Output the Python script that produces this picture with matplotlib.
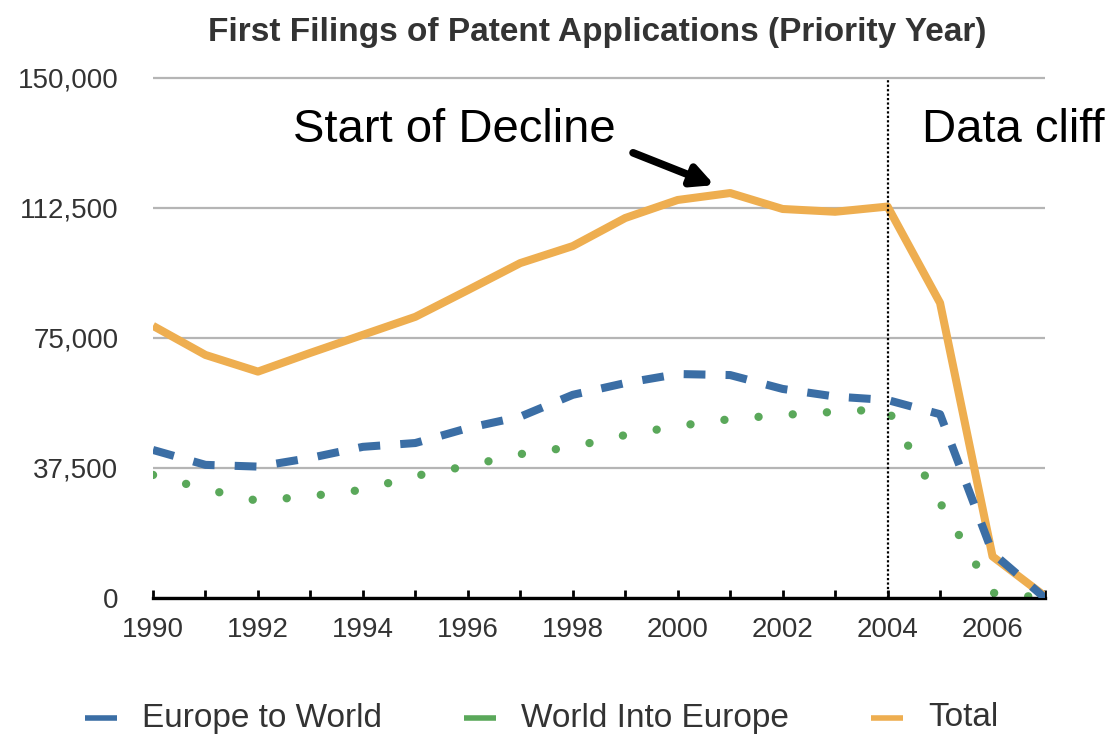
import numpy as np
import matplotlib.pyplot as plt
from matplotlib.lines import Line2D

plt.rcParams['font.family'] = ['Liberation Sans', 'DejaVu Sans']

# data
years = list(range(1990, 2008))
europe_to_world = [42700, 38400, 37900, 40400, 43600, 44700, 49000, 52300, 58600, 62000,
                   64600, 64300, 60300, 58100, 57100, 53000, 13000, 0]
world_into_europe = [35500, 31400, 28000, 29400, 31200, 35200, 38100, 41500, 43600, 47000,
                     49600, 51600, 52800, 53700, 54500, 27500, 1500, 0]
total = [78500, 70100, 65300, 70700, 75900, 81100, 88800, 96600, 101500, 109600,
         114800, 116800, 112200, 111400, 112900, 85100, 12000, 500]
ytick_vals = [0, 37500, 75000, 112500, 150000]
ytick_labels = ["0", "37,500", "75,000", "112,500", "150,000"]
series_names = ["Europe to World", "World Into Europe", "Total"]

c_blue = '#3b6ea5'
c_green = '#5aa85a'
c_orange = '#eeae50'
c_text = '#333333'

W, H = 1115, 736
fig = plt.figure(figsize=(W / 100, H / 100), dpi=100)
ax = fig.add_axes([153/W, 1 - 598/H, (1045 - 153)/W, (598 - 71)/H])

ax.plot(years, total, color=c_orange, lw=5.8, solid_capstyle='butt', solid_joinstyle='round', zorder=3)
ax.plot(years, europe_to_world, color=c_blue, lw=5.8, linestyle=(0, (2.7, 2.5)),
        dash_capstyle='butt', zorder=4)
ax.plot(years, world_into_europe, color=c_green, lw=6, linestyle=(0, (0.01, 4.1)),
        dash_capstyle='round', zorder=2)

# data cliff marker
ax.vlines(2004, 0, 150000, colors='black', linestyles=(0, (1, 1)), lw=1.6, zorder=5)

ax.set_xlim(1990, 2007)
ax.set_ylim(0, 152000)
ax.set_xticks(years)
ax.set_xticklabels([str(y) if y % 2 == 0 and y < 2007 else "" for y in years])
ax.set_yticks(ytick_vals)
ax.set_yticklabels(ytick_labels)
ax.grid(axis='y', color='#b5b5b5', lw=1.6, zorder=0)
ax.set_axisbelow(True)

for s in ['left', 'right', 'top']:
    ax.spines[s].set_visible(False)
ax.spines['bottom'].set_linewidth(2.4)
ax.spines['bottom'].set_color('black')
ax.tick_params(axis='x', direction='in', length=6, width=2, colors='black',
               labelcolor=c_text, labelsize=20, pad=14)
ax.tick_params(axis='y', length=0, labelcolor=c_text, labelsize=20, pad=25)

fig.text(0.536, 1 - 32/H, "First Filings of Patent Applications (Priority Year)",
         ha='center', va='center', fontsize=24, fontweight='bold', color=c_text)

ax.text(1992.67, 135000, "Start of Decline", fontsize=34, ha='left', va='center', color='black')
ax.text(2004.66, 135000, "Data cliff", fontsize=34, ha='left', va='center', color='black')
ax.annotate("", xy=(2000.75, 118800), xytext=(1999.1, 128700),
            arrowprops=dict(arrowstyle='-|>', lw=5.5, color='black', mutation_scale=32))

# legend along the bottom, short solid keys
legend_y = 1 - 718/H
key_x = [85, 464, 871]
for kx, col, name in zip(key_x, [c_blue, c_green, c_orange], series_names):
    fig.add_artist(Line2D([kx/W, (kx + 32)/W], [legend_y, legend_y], transform=fig.transFigure,
                          color=col, lw=4, solid_capstyle='butt'))
    fig.text((kx + 57)/W, legend_y, name, ha='left', va='center', fontsize=24, color=c_text)

fig.savefig("out.png", dpi=100)
